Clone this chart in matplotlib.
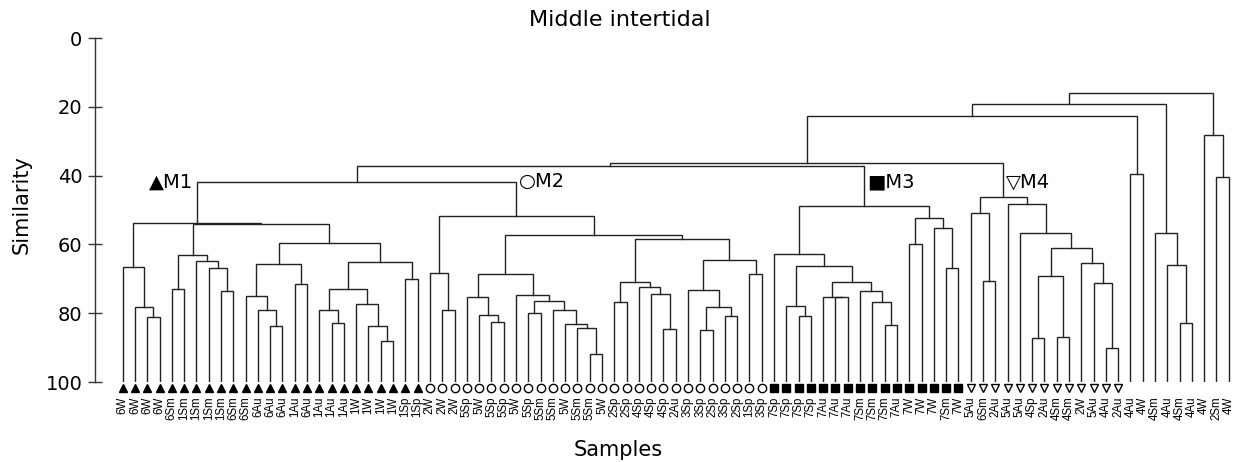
import matplotlib
matplotlib.use("Agg")
import matplotlib.pyplot as plt

# leaf order along the x axis
leaf_labels = [
    "6W", "6W", "6W", "6W", "6Sm", "1Sm", "1Sm", "1Sm", "1Sm", "6Sm",
    "6Sm", "6Au", "6Au", "6Au", "1Au", "6Au", "1Au", "1Au", "1Au", "1W",
    "1W", "1W", "1W", "1Sp", "1Sp",
    "2W", "2W", "2W", "5Sp", "5W", "5Sp", "5Sp", "5W", "5Sp", "5Sm",
    "5Sm", "5W", "5Sm", "5Sm", "5W", "2Sp", "2Sp", "4Sp", "4Sp", "4Sp",
    "2Au", "3Sp", "3Sp", "2Sp", "3Sp", "2Sp", "1Sp", "3Sp",
    "7Sp", "7Sp", "7Sp", "7Sp", "7Au", "7Au", "7Au", "7Sm", "7Sm", "7Sm",
    "7Au", "7W", "7W", "7W", "7Sm", "7W",
    "5Au", "6Sm", "2Au", "5Au", "5Au", "4Sp", "2Au", "4Sm", "4Sm", "2W",
    "5Au", "4Au", "2Au",
    "4Au", "4W", "4Sm", "4Au", "4Sm", "4Au", "4W", "2Sm", "4W",
]
leaf_groups = ["M1"] * 25 + ["M2"] * 28 + ["M3"] * 16 + ["M4"] * 13 + [None] * 9

# (node, left child, right child, similarity); ints = leaf index
merges = [
    # M1
    ("m1a", 2, 3, 81.2), ("m1b", 1, "m1a", 78.3), ("m1c", 0, "m1b", 66.7),
    ("m1d", 4, 5, 73.0), ("m1e", 8, 9, 73.5), ("m1f", 7, "m1e", 67.0),
    ("m1g", 6, "m1f", 64.7), ("m1h", "m1d", "m1g", 63.2),
    ("m1i", 12, 13, 83.6), ("m1j", 11, "m1i", 79.2), ("m1k", 10, "m1j", 74.9),
    ("m1l", 14, 15, 71.5), ("m1m", "m1k", "m1l", 65.8),
    ("m1n", 17, 18, 82.8), ("m1o", 16, "m1n", 79.2), ("m1p", 21, 22, 88.0),
    ("m1q", 20, "m1p", 83.7), ("m1r", 19, "m1q", 77.2), ("m1s", "m1o", "m1r", 73.1),
    ("m1t", 23, 24, 70.1), ("m1u", "m1s", "m1t", 65.1), ("m1v", "m1m", "m1u", 59.6),
    ("m1w", "m1h", "m1v", 54.2), ("M1", "m1c", "m1w", 53.7),
    # M2
    ("m2a", 26, 27, 79.1), ("m2b", 25, "m2a", 68.4),
    ("m2c", 30, 31, 82.5), ("m2d", 29, "m2c", 80.5), ("m2e", 28, "m2d", 75.2),
    ("m2f", 33, 34, 79.8), ("m2g", 38, 39, 91.9), ("m2h", 37, "m2g", 84.2),
    ("m2i", 36, "m2h", 83.2), ("m2j", 35, "m2i", 79.1), ("m2k", "m2f", "m2j", 76.4),
    ("m2l", 32, "m2k", 74.7), ("m2m", "m2e", "m2l", 68.6),
    ("m2n", 40, 41, 76.6), ("m2o", 44, 45, 84.6), ("m2p", 43, "m2o", 74.5),
    ("m2q", 42, "m2p", 72.5), ("m2r", "m2n", "m2q", 71.0),
    ("m2s", 47, 48, 84.9), ("m2t", 49, 50, 80.7), ("m2u", "m2s", "m2t", 78.3),
    ("m2v", 46, "m2u", 73.3), ("m2w", 51, 52, 68.7), ("m2x", "m2v", "m2w", 64.6),
    ("m2y", "m2r", "m2x", 58.3), ("m2z", "m2m", "m2y", 57.3), ("M2", "m2b", "m2z", 51.7),
    # M3
    ("m3a", 55, 56, 80.7), ("m3b", 54, "m3a", 77.9), ("m3c", 58, 59, 75.4),
    ("m3d", 57, "m3c", 75.2), ("m3e", 62, 63, 83.5), ("m3f", 61, "m3e", 76.8),
    ("m3g", 60, "m3f", 73.5), ("m3h", "m3d", "m3g", 71.0), ("m3i", "m3b", "m3h", 66.2),
    ("m3j", 53, "m3i", 62.8), ("m3k", 64, 65, 59.9), ("m3l", 67, 68, 66.9),
    ("m3m", 66, "m3l", 55.1), ("m3n", "m3k", "m3m", 52.4), ("M3", "m3j", "m3n", 48.8),
    # M4
    ("m4a", 70, 71, 70.6), ("m4b", 69, "m4a", 50.8), ("m4c", 74, 75, 87.1),
    ("m4d", 76, 77, 86.9), ("m4e", "m4c", "m4d", 69.2), ("m4f", 80, 81, 90.2),
    ("m4g", 79, "m4f", 71.3), ("m4h", 78, "m4g", 65.4), ("m4i", "m4e", "m4h", 61.1),
    ("m4j", 73, "m4i", 56.8), ("m4k", 72, "m4j", 48.2), ("M4", "m4b", "m4k", 46.3),
    # top of the tree
    ("t1", "M1", "M2", 41.8), ("t2", "t1", "M3", 37.2), ("t3", "t2", "M4", 36.4),
    ("r1", 82, 83, 39.6), ("t4", "t3", "r1", 22.8),
    ("r2", 86, 87, 82.8), ("r3", 85, "r2", 66.1), ("r4", 84, "r3", 56.6),
    ("t5", "t4", "r4", 19.3),
    ("r5", 89, 90, 40.3), ("r6", 88, "r5", 28.2), ("root", "t5", "r6", 15.9),
]

group_marker = {
    "M1": dict(marker="^", mfc="black"),
    "M2": dict(marker="o", mfc="white"),
    "M3": dict(marker="s", mfc="black"),
    "M4": dict(marker="v", mfc="white"),
}
group_text = {"M1": "\u25B2M1", "M2": "\u25CBM2", "M3": "\u25A0M3", "M4": "\u25BDM4"}

plt.rcParams["font.family"] = "DejaVu Sans"
fig = plt.figure(figsize=(12.38, 4.62), dpi=100)
ax = fig.add_axes([95 / 1238, 1 - 382 / 462, 1141 / 1238, 344 / 462])

n = len(leaf_labels)
pos = {i: float(i) for i in range(n)}
hgt = {i: 100.0 for i in range(n)}
for name, a, b, s in merges:
    xa, xb = pos[a], pos[b]
    ax.plot([xa, xa, xb, xb], [hgt[a], s, s, hgt[b]], color="#222222", lw=1.0,
            solid_joinstyle="miter")
    pos[name] = (xa + xb) / 2
    hgt[name] = s

# leaf markers
for i, g in enumerate(leaf_groups):
    if g is None:
        continue
    ax.plot(i, 101.8, ms=6, mec="black", mew=1.0, ls="none", clip_on=False,
            **group_marker[g])

# group labels next to group nodes
ax.annotate(group_text["M1"], (pos["M1"], hgt["t1"]), xytext=(-3, 0),
            textcoords="offset points", ha="right", va="center", fontsize=14)
for g in ["M2", "M3", "M4"]:
    ax.annotate(group_text[g], (pos[g], hgt["t1"]), xytext=(2, 0),
                textcoords="offset points", ha="left", va="center", fontsize=14)

ax.set_ylim(100, 0)
ax.set_xlim(-2.254, 90.59)
ax.set_yticks([0, 20, 40, 60, 80, 100])
ax.tick_params(axis="y", direction="inout", length=10, width=1.0, labelsize=14,
               pad=4, color="#333333")
ax.set_xticks(range(n))
ax.set_xticklabels(leaf_labels, rotation=90, fontsize=8.3, family="Liberation Sans")
ax.tick_params(axis="x", length=0, pad=10.5)
for side in ["top", "right", "bottom"]:
    ax.spines[side].set_visible(False)
ax.spines["left"].set_color("#333333")
ax.spines["left"].set_linewidth(1.0)

fig.text(620 / 1238, 1 - 20 / 462, "Middle intertidal", ha="center", va="center",
         fontsize=16)
fig.text(22 / 1238, 1 - 205 / 462, "Similarity", rotation=90, ha="center",
         va="center", fontsize=15)
fig.text(618 / 1238, 1 - 450 / 462, "Samples", ha="center", va="center", fontsize=15)

fig.savefig("out.png", dpi=100)
